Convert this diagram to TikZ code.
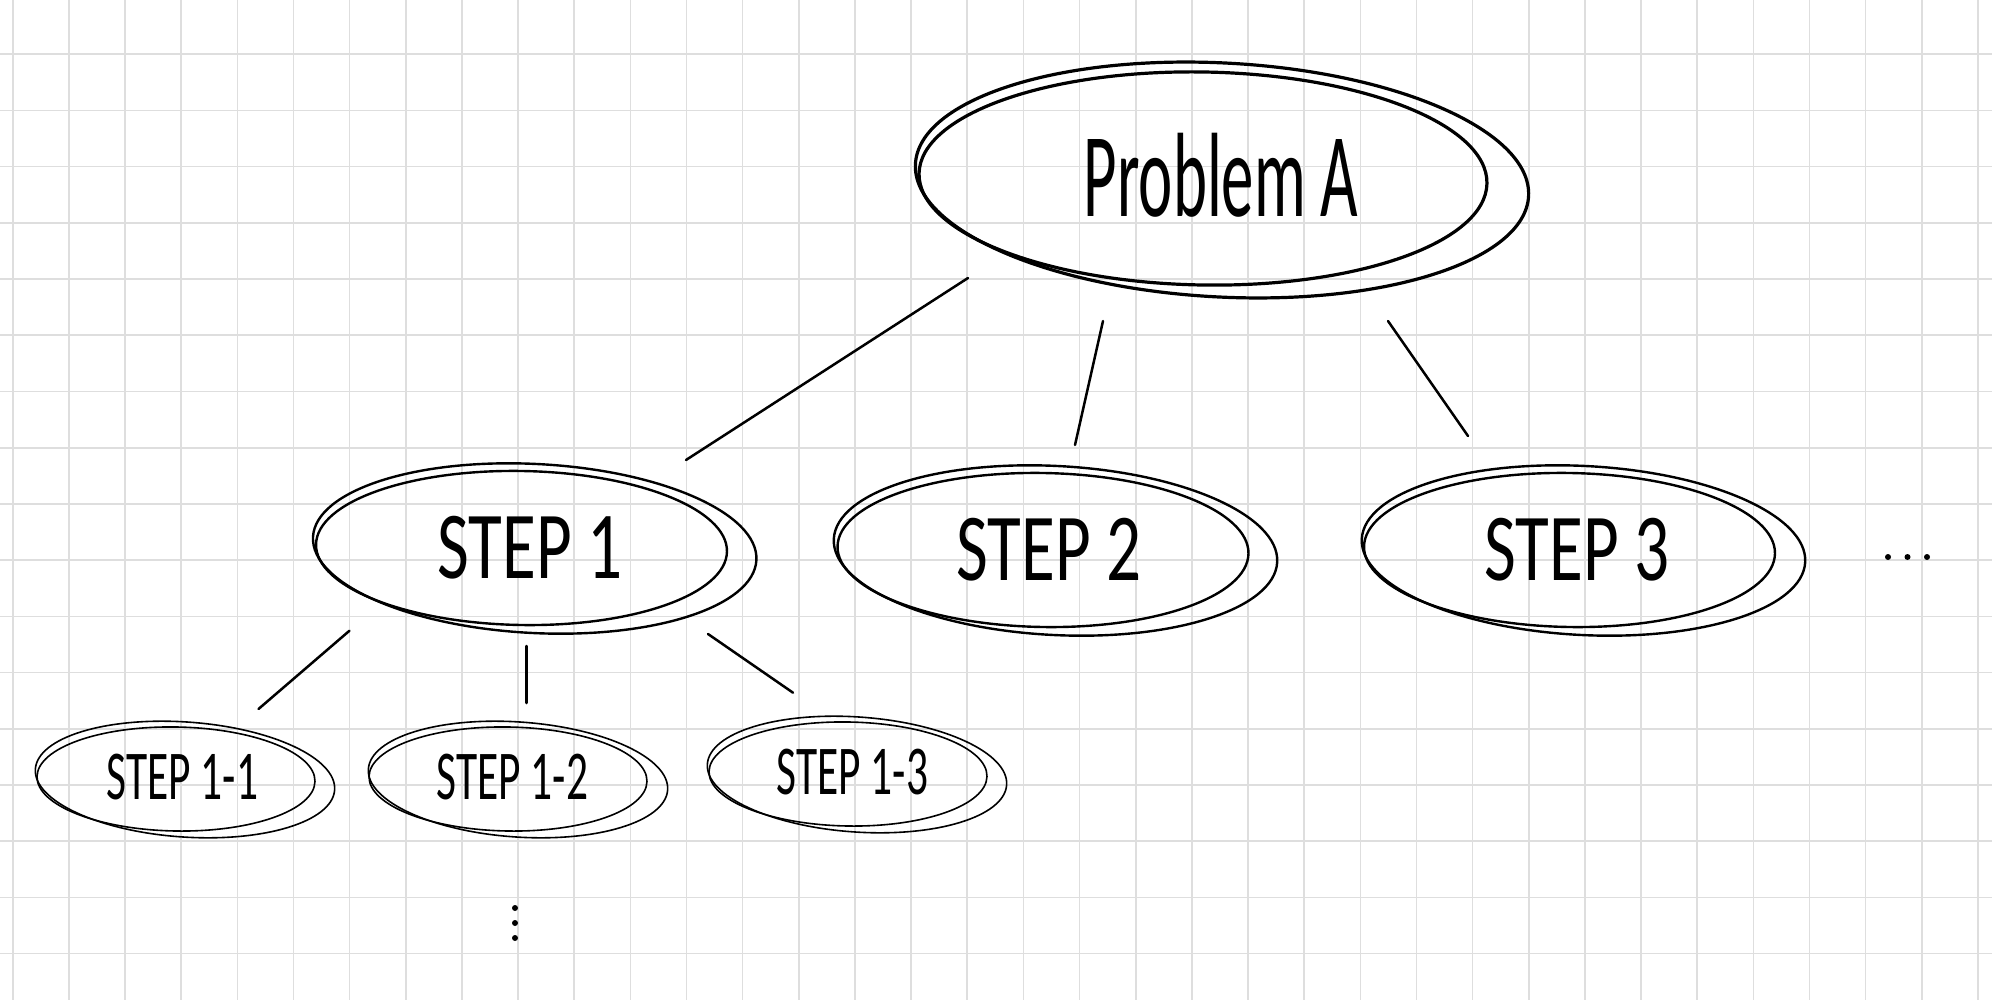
\documentclass[tikz,border=0pt]{standalone}
\usepackage{fontspec}
\setmainfont{Carlito}
\begin{document}
\begin{tikzpicture}[x=1pt,y=-1pt,
  gridline/.style={draw=black!13,line width=1.6pt},
  skA/.style={draw=black,line width=3.2pt},
  skB/.style={draw=black,line width=2.4pt},
  skC/.style={draw=black,line width=1.6pt},
  conn/.style={draw=black,line width=2.5pt,line cap=round},
  bigtxt/.style={font=\fontsize{120}{120}\selectfont,xscale=0.54,inner sep=0pt},
  midtxt/.style={font=\fontsize{96}{96}\selectfont,xscale=0.72,inner sep=0pt},
  smalltxt/.style={font=\fontsize{70}{70}\selectfont,xscale=0.62,inner sep=0pt},
  dotmark/.style={fill=black,circle,inner sep=0pt,minimum size=6pt}]
\fill[white] (0,0) rectangle (1992,1000);
\useasboundingbox (0,0) rectangle (1992,1000);
% grid
\foreach \i in {0,...,35} \draw[gridline] (12.7+56.15*\i,0) -- (12.7+56.15*\i,1000);
\foreach \j in {0,...,16} \draw[gridline] (0,54.3+56.2*\j) -- (1992,54.3+56.2*\j);
% nodes
\node[bigtxt] (A) at (1221,175) {Problem A};
\node[midtxt] (S1) at (530,548) {STEP 1};
\node[midtxt] (S2) at (1049,550) {STEP 2};
\node[midtxt] (S3) at (1577,550) {STEP 3};
\node[smalltxt] (S11) at (182.5,777) {STEP 1-1};
\node[smalltxt] (S12) at (512.5,777) {STEP 1-2};
\node[smalltxt] (S13) at (852.5,772) {STEP 1-3};
% sketchy ellipses
\draw[skA] ([shift={(-18,3.5)}]A.center) ellipse [x radius=284, y radius=106.5, rotate=-1];
\draw[skA] ([shift={(1,5)}]A.center) ellipse [x radius=307, y radius=117, rotate=-3];
\foreach \n/\a/\b in {S1/-8.5/4.7,S2/-6/6.5,S3/-7.5/6.5}{
  \draw[skB] ([shift={(\a,0)}]\n.center) ellipse [x radius=205.5, y radius=77, rotate=-1];
  \draw[skB] ([shift={(\b,0.5)}]\n.center) ellipse [x radius=222, y radius=84.5, rotate=-3];
}
\foreach \n/\a/\b in {S11/-6.5/2.5,S12/-4.5/5.5,S13/-4.5/4.5}{
  \draw[skC] ([shift={(\a,2)}]\n.center) ellipse [x radius=139, y radius=52, rotate=-1];
  \draw[skC] ([shift={(\b,2.5)}]\n.center) ellipse [x radius=150, y radius=57.5, rotate=-4];
}
% connectors
\draw[conn] ([shift={(-253,103)}]A.center) -- ([shift={(156,-88)}]S1.center);
\draw[conn] ([shift={(-118,146)}]A.center) -- ([shift={(26,-105)}]S2.center);
\draw[conn] ([shift={(167,146)}]A.center) -- ([shift={(-109,-114)}]S3.center);
\draw[conn] ([shift={(-180.5,82.7)}]S1.center) -- ([shift={(76,-68)}]S11.center);
\draw[conn] ([shift={(-3.5,98)}]S1.center) -- ([shift={(14,-74)}]S12.center);
\draw[conn] ([shift={(178,86)}]S1.center) -- ([shift={(-59.5,-79.3)}]S13.center);
% ellipsis marks
\node[dotmark] (h1) at (1888,557) {};
\node[dotmark] (h2) at (1907.5,557) {};
\node[dotmark] (h3) at (1927,557) {};
\node[dotmark] (v1) at (515,908) {};
\node[dotmark] (v2) at (515,923) {};
\node[dotmark] (v3) at (515,938) {};
\end{tikzpicture}
\end{document}
